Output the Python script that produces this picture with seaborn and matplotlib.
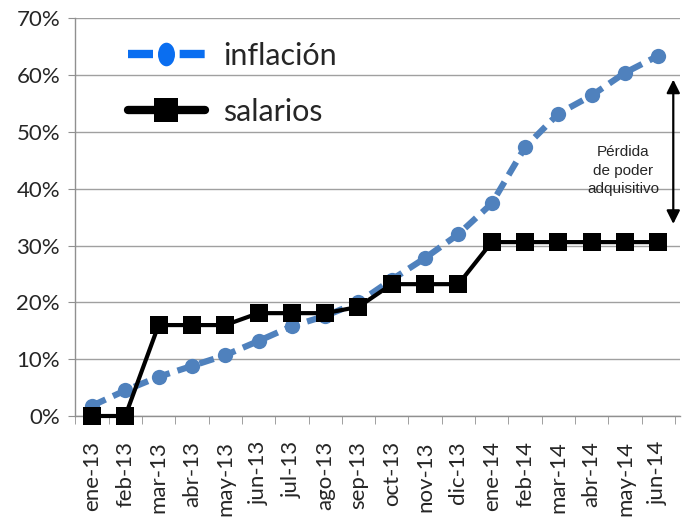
import matplotlib.pyplot as plt
import seaborn as sns
import pandas as pd
from matplotlib.lines import Line2D
from matplotlib.path import Path
from matplotlib.transforms import Affine2D
from matplotlib.ticker import PercentFormatter, FixedLocator

# Datos (variación acumulada)
meses = ['ene-13', 'feb-13', 'mar-13', 'abr-13', 'may-13', 'jun-13', 'jul-13', 'ago-13', 'sep-13',
         'oct-13', 'nov-13', 'dic-13', 'ene-14', 'feb-14', 'mar-14', 'abr-14', 'may-14', 'jun-14']
inflacion = [0.018, 0.045, 0.069, 0.088, 0.107, 0.132, 0.158, 0.176, 0.200,
             0.240, 0.278, 0.320, 0.374, 0.473, 0.532, 0.564, 0.604, 0.634]
salarios = [0.0, 0.0, 0.160, 0.160, 0.160, 0.181, 0.181, 0.181, 0.192,
            0.232, 0.232, 0.232, 0.306, 0.306, 0.306, 0.306, 0.306, 0.306]

df = pd.DataFrame({'mes': meses, 'inflacion': inflacion, 'salarios': salarios})

sns.set_style('white')
plt.rcParams['font.family'] = ['Lato', 'DejaVu Sans']

fig, ax = plt.subplots(figsize=(6.91, 5.20), dpi=100)
fig.subplots_adjust(left=0.109, right=0.984, bottom=0.2, top=0.965)

azul = '#4F81BD'
sns.lineplot(data=df, x='mes', y='inflacion', sort=False, ax=ax, color=azul,
             linewidth=4.5, linestyle=(0, (2.4, 1.3)), marker='o', markersize=11,
             markeredgewidth=0, clip_on=False, zorder=3)
sns.lineplot(data=df, x='mes', y='salarios', sort=False, ax=ax, color='black',
             linewidth=3, marker='s', markersize=13, markeredgewidth=0,
             clip_on=False, zorder=4)

# Ejes
ax.set_ylim(0, 0.7)
ax.set_xlim(-0.5, len(meses) - 0.35)
ax.yaxis.set_major_formatter(PercentFormatter(1.0, decimals=0))
ax.set_yticks([i / 10 for i in range(8)])
ax.grid(axis='y', color='#A0A0A0', linewidth=1)
ax.grid(axis='x', visible=False)
for s in ['top', 'right']:
    ax.spines[s].set_visible(False)
for s in ['left', 'bottom']:
    ax.spines[s].set_color('#909090')
    ax.spines[s].set_linewidth(1)
ax.set_xlabel('')
ax.set_ylabel('')
ax.set_xticks(range(len(meses)))
ax.set_xticklabels(meses, rotation=90)
ax.tick_params(axis='x', length=0, labelsize=16, pad=18)
ax.tick_params(axis='y', length=5, color='#909090', labelsize=16, pad=6, left=True)
ax.xaxis.set_minor_locator(FixedLocator([i - 0.5 for i in range(len(meses) + 1)]))
ax.tick_params(axis='x', which='minor', length=6, color='#909090', bottom=True)

# Anotación de la brecha
ax.annotate('', xy=(17.45, 0.338), xytext=(17.45, 0.592),
            arrowprops=dict(arrowstyle='<|-|>', color='black', lw=1.6,
                            mutation_scale=20, shrinkA=0, shrinkB=0))
ax.text(15.95, 0.432, 'Pérdida\nde poder\nadquisitivo', ha='center', va='center',
        fontsize=11, family=['Liberation Sans', 'DejaVu Sans'], linespacing=1.45)

# Leyenda
ovalo = Path.unit_circle().transformed(Affine2D().scale(0.72, 1.0))
handles = [
    Line2D([], [], color='#0A6EF0', linewidth=6, linestyle=(0, (3.0, 3.2)), marker=ovalo,
           markersize=17, markeredgewidth=0),
    Line2D([], [], color='black', linewidth=6, marker='s', markersize=17, markeredgewidth=0),
]
ax.legend(handles, ['inflación', 'salarios'], loc='upper left', bbox_to_anchor=(0.042, 1.01),
          frameon=False, fontsize=22, handlelength=2.5, handletextpad=0.6, labelspacing=0.92)

fig.savefig('out.png', dpi=100)
